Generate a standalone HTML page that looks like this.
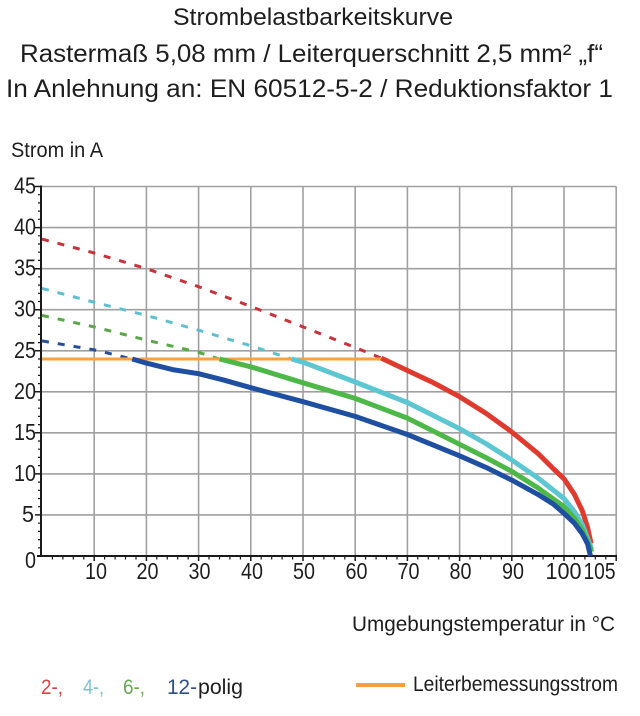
<!DOCTYPE html>
<html><head><meta charset="utf-8"><style>
html,body{margin:0;padding:0;background:#fff;}
svg{display:block;}
text{font-family:"Liberation Sans",sans-serif;fill:#1e1e1e;}
</style></head><body>
<svg width="640" height="716" viewBox="0 0 640 716" xmlns="http://www.w3.org/2000/svg">
<rect width="640" height="716" fill="#fff"/>
<!-- titles -->
<text x="173" y="25" font-size="24" textLength="280" lengthAdjust="spacingAndGlyphs">Strombelastbarkeitskurve</text>
<text x="20" y="62" font-size="25" textLength="583" lengthAdjust="spacingAndGlyphs">Rastermaß 5,08 mm / Leiterquerschnitt 2,5 mm² „f“</text>
<text x="6" y="97" font-size="25" textLength="607" lengthAdjust="spacingAndGlyphs">In Anlehnung an: EN 60512-5-2 / Reduktionsfaktor 1</text>
<text x="11" y="157" font-size="21" textLength="92" lengthAdjust="spacingAndGlyphs">Strom in A</text>

<!-- grid -->
<g stroke="#a0a0a0" stroke-width="1.6" fill="none">
<line x1="94.2" y1="186.5" x2="94.2" y2="556"/>
<line x1="146.4" y1="186.5" x2="146.4" y2="556"/>
<line x1="198.6" y1="186.5" x2="198.6" y2="556"/>
<line x1="250.8" y1="186.5" x2="250.8" y2="556"/>
<line x1="303" y1="186.5" x2="303" y2="556"/>
<line x1="355.2" y1="186.5" x2="355.2" y2="556"/>
<line x1="407.4" y1="186.5" x2="407.4" y2="556"/>
<line x1="459.6" y1="186.5" x2="459.6" y2="556"/>
<line x1="511.8" y1="186.5" x2="511.8" y2="556"/>
<line x1="564" y1="186.5" x2="564" y2="556"/>
<line x1="616.2" y1="186.5" x2="616.2" y2="556"/>
<line x1="42" y1="186.5" x2="616.2" y2="186.5"/>
<line x1="42" y1="227.6" x2="616.2" y2="227.6"/>
<line x1="42" y1="268.7" x2="616.2" y2="268.7"/>
<line x1="42" y1="309.7" x2="616.2" y2="309.7"/>
<line x1="42" y1="350.8" x2="616.2" y2="350.8"/>
<line x1="42" y1="391.8" x2="616.2" y2="391.8"/>
<line x1="42" y1="432.8" x2="616.2" y2="432.8"/>
<line x1="42" y1="473.9" x2="616.2" y2="473.9"/>
<line x1="42" y1="514.9" x2="616.2" y2="514.9"/>
</g>

<!-- axes -->
<g stroke="#1a1a1a" fill="none">
<line x1="41" y1="185.5" x2="41" y2="557" stroke-width="2"/>
<line x1="37" y1="556" x2="617" y2="556" stroke-width="2"/>
<path stroke-width="1.2" d="M38 194.7H41M38 202.9H41M38 211.1H41M38 219.3H41M38 235.8H41M38 244H41M38 252.2H41M38 260.4H41M38 276.9H41M38 285.1H41M38 293.3H41M38 301.5H41M38 318H41M38 326.2H41M38 334.4H41M38 342.6H41M38 359H41M38 367.2H41M38 375.4H41M38 383.6H41M38 400H41M38 408.2H41M38 416.4H41M38 424.6H41M38 441H41M38 449.2H41M38 457.4H41M38 465.6H41M38 482.1H41M38 490.3H41M38 498.5H41M38 506.7H41M38 523.2H41M38 531.4H41M38 539.6H41M38 547.8H41"/>
<path stroke-width="1.5" d="M35 186.5H41M35 227.6H41M35 268.7H41M35 309.7H41M35 350.8H41M35 391.8H41M35 432.8H41M35 473.9H41M35 514.9H41"/>
<path stroke-width="1.2" d="M52.4 556V559.5M62.9 556V559.5M73.3 556V559.5M83.8 556V559.5M104.6 556V559.5M115.1 556V559.5M125.5 556V559.5M136 556V559.5M156.8 556V559.5M167.3 556V559.5M177.7 556V559.5M188.2 556V559.5M209 556V559.5M219.5 556V559.5M229.9 556V559.5M240.4 556V559.5M261.2 556V559.5M271.7 556V559.5M282.1 556V559.5M292.6 556V559.5M313.4 556V559.5M323.9 556V559.5M334.3 556V559.5M344.8 556V559.5M365.6 556V559.5M376.1 556V559.5M386.5 556V559.5M397 556V559.5M417.8 556V559.5M428.3 556V559.5M438.7 556V559.5M449.2 556V559.5M470 556V559.5M480.5 556V559.5M490.9 556V559.5M501.4 556V559.5M522.2 556V559.5M532.7 556V559.5M543.1 556V559.5M553.6 556V559.5M574.4 556V559.5M584.9 556V559.5M595.3 556V559.5M605.8 556V559.5"/>
<path stroke-width="1.5" d="M94.2 556V561M146.4 556V561M198.6 556V561M250.8 556V561M303 556V561M355.2 556V561M407.4 556V561M459.6 556V561M511.8 556V561M564 556V561M616.2 556V561"/>
</g>

<!-- y labels -->
<g font-size="23" text-anchor="end">
<text x="36" y="193.5" textLength="22" lengthAdjust="spacingAndGlyphs">45</text>
<text x="36" y="234.6" textLength="22" lengthAdjust="spacingAndGlyphs">40</text>
<text x="36" y="275.7" textLength="22" lengthAdjust="spacingAndGlyphs">35</text>
<text x="36" y="316.7" textLength="22" lengthAdjust="spacingAndGlyphs">30</text>
<text x="36" y="357.8" textLength="22" lengthAdjust="spacingAndGlyphs">25</text>
<text x="36" y="398.8" textLength="22" lengthAdjust="spacingAndGlyphs">20</text>
<text x="36" y="439.8" textLength="22" lengthAdjust="spacingAndGlyphs">15</text>
<text x="36" y="480.9" textLength="22" lengthAdjust="spacingAndGlyphs">10</text>
<text x="34" y="521.9" textLength="12" lengthAdjust="spacingAndGlyphs">5</text>
<text x="36" y="568" textLength="11" lengthAdjust="spacingAndGlyphs">0</text>
</g>
<!-- x labels -->
<g font-size="23" text-anchor="middle">
<text x="96" y="579" textLength="22" lengthAdjust="spacingAndGlyphs">10</text>
<text x="147.5" y="579" textLength="22" lengthAdjust="spacingAndGlyphs">20</text>
<text x="199.5" y="579" textLength="22" lengthAdjust="spacingAndGlyphs">30</text>
<text x="252" y="579" textLength="22" lengthAdjust="spacingAndGlyphs">40</text>
<text x="304" y="579" textLength="22" lengthAdjust="spacingAndGlyphs">50</text>
<text x="356.5" y="579" textLength="22" lengthAdjust="spacingAndGlyphs">60</text>
<text x="408.5" y="579" textLength="22" lengthAdjust="spacingAndGlyphs">70</text>
<text x="460.5" y="579" textLength="22" lengthAdjust="spacingAndGlyphs">80</text>
<text x="513" y="579" textLength="22" lengthAdjust="spacingAndGlyphs">90</text>
<text x="563.5" y="579" textLength="36" lengthAdjust="spacingAndGlyphs">100</text>
<text x="599.5" y="579" textLength="32" lengthAdjust="spacingAndGlyphs">105</text>
</g>

<!-- dashed extrapolations -->
<g fill="none" stroke-width="3" stroke-dasharray="7 9" stroke-linecap="butt">
<polyline stroke="#c8323a" points="42,239.1 94.2,253 146.4,268.7 198.6,286.7 250.8,306.4 303,326.9 355.2,347.5 381.3,358.1"/>
<polyline stroke="#5dbfd0" points="42,288.4 94.2,302.3 146.4,315.4 198.6,330.2 250.8,345.8 291.5,359"/>
<polyline stroke="#58a845" points="42,315.4 94.2,326.9 146.4,340.1 198.6,352.4 219.5,359"/>
<polyline stroke="#274f98" points="42,340.9 94.2,349.9 132.3,359"/>
</g>

<!-- orange rated current -->
<line x1="42" y1="359" x2="383" y2="359" stroke="#f7a23e" stroke-width="3"/>

<!-- solid curves -->
<g fill="none" stroke-width="5" stroke-linejoin="round" stroke-linecap="butt">
<polyline stroke="#e03a2f" points="381.3,358.1 407.4,370.5 433.5,382.8 459.6,396.7 485.7,413.1 511.8,432 537.9,453.4 553.6,469 564,478.8 574.4,494.4 582.3,510.8 587.5,527.3 591.1,543.7"/>
<polyline stroke="#5cc6d2" points="291.5,359 303,362.2 355.2,382 407.4,402.5 459.6,428.7 485.7,443.5 511.8,460 537.9,478 564,498.5 574.4,511.7 582.3,524.8 587.4,537.9 591.7,549.4"/>
<polyline stroke="#4db848" points="219.5,359 250.8,366.8 303,382.8 355.2,398.4 407.4,418.1 459.6,444.3 485.7,457.5 511.8,471.4 537.9,487.9 564,506.7 574.4,518.2 582.3,529.7 587.4,541.2 591.7,551.9"/>
<polyline stroke="#1f4fa0" points="132.3,359 146.4,363.1 172.5,369.6 198.6,373.7 224.7,380.3 250.8,387.7 303,401.7 355.2,416.4 407.4,434.5 459.6,455.8 485.7,467.3 511.8,480.1 537.9,494.4 553.6,504.3 564,513.3 574.4,523.2 582.3,533.8 587.5,543.7 590.5,556"/>
</g>

<!-- axis title -->
<text x="352" y="631" font-size="21" textLength="263" lengthAdjust="spacingAndGlyphs">Umgebungstemperatur in °C</text>

<!-- legend -->
<g font-size="21">
<text x="41" y="694" fill="#d94343" style="fill:#d94343" textLength="22" lengthAdjust="spacingAndGlyphs">2-,</text>
<text x="83" y="694" style="fill:#7cc4d0" textLength="21" lengthAdjust="spacingAndGlyphs">4-,</text>
<text x="123" y="694" style="fill:#64a952" textLength="22" lengthAdjust="spacingAndGlyphs">6-,</text>
<text x="167" y="694" style="fill:#2f4f8a" textLength="30" lengthAdjust="spacingAndGlyphs">12-</text>
<text x="198" y="694" textLength="45" lengthAdjust="spacingAndGlyphs">polig</text>
</g>
<line x1="356" y1="685" x2="405" y2="685" stroke="#f5a040" stroke-width="4"/>
<text x="413" y="691" font-size="21" textLength="205" lengthAdjust="spacingAndGlyphs">Leiterbemessungsstrom</text>
</svg>
</body></html>
